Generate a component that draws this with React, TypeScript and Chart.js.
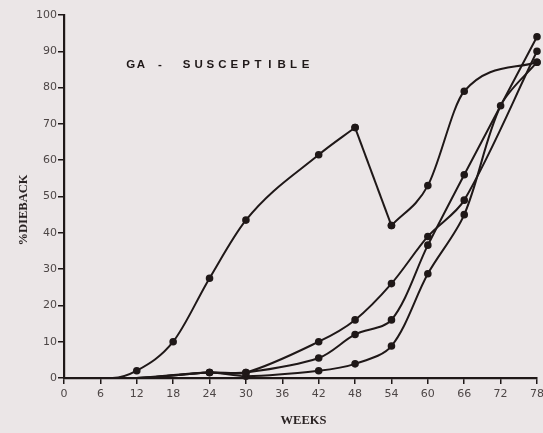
import React, { useEffect, useRef } from "react";
import { Chart, registerables } from "chart.js";

Chart.register(...registerables);

// ---- data ----
const xTickValues = [0, 6, 12, 18, 24, 30, 36, 42, 48, 54, 60, 66, 72, 78];
const yTickValues = [0, 10, 20, 30, 40, 50, 60, 70, 80, 90, 100];

// early-dieback curve
const s1Weeks = [0, 8, 12, 18, 24, 30, 42, 48, 54, 60, 66, 78];
const s1Values = [0, 0, 2, 10, 27.5, 43.5, 61.5, 69, 42, 53, 79, 87];
const s1Cusps = [48, 54];

const aWeeks = [0, 12, 24, 30, 42, 48, 54, 60, 66, 78];
const aValues = [0, 0, 1.5, 1.5, 10, 16, 26, 39, 49, 90];

const bWeeks = [0, 12, 24, 30, 42, 48, 54, 60, 66, 78];
const bValues = [0, 0, 1.5, 1.5, 5.5, 12, 16, 36.6, 56, 94];

const cWeeks = [0, 12, 24, 30, 42, 48, 54, 60, 66, 72, 78];
const cValues = [0, 0, 1.5, 0.5, 2, 3.9, 8.8, 28.7, 45, 75, 87];

const titleLeft = "GA";
const titleDash = "-";
const titleRight = "SUSCEPTIBLE";
const xTitle = "WEEKS";
const yTitle = "%DIEBACK";

const INK = "#1f1818";
const BG = "#ebe6e7";

type Pt = { x: number; y: number };

function toPoints(weeks: number[], values: number[]): Pt[] {
  return weeks.map((w, i) => ({ x: w, y: values[i] }));
}

// split a series at cusp weeks so the curve can bend sharply there
function splitAt(points: Pt[], cusps: number[]): Pt[][] {
  const pieces: Pt[][] = [];
  let cur: Pt[] = [];
  points.forEach((p) => {
    cur.push(p);
    if (cusps.includes(p.x)) {
      pieces.push(cur);
      cur = [p];
    }
  });
  if (cur.length > 1) pieces.push(cur);
  return pieces;
}

function drawSpaced(ctx: CanvasRenderingContext2D, text: string, startCenter: number, pitch: number, y: number) {
  for (let i = 0; i < text.length; i++) {
    ctx.fillText(text[i], startCenter + i * pitch, y);
  }
}

const textPlugin = {
  id: "texts",
  afterDraw(chart: any) {
    const { ctx } = chart;
    ctx.save();
    ctx.fillStyle = INK;
    ctx.textAlign = "center";
    ctx.textBaseline = "middle";
    ctx.font = 'bold 11.5px "Liberation Sans", Arial, sans-serif';
    drawSpaced(ctx, titleLeft, 130.8, 10, 64.5);
    drawSpaced(ctx, titleDash, 160, 10, 64.5);
    drawSpaced(ctx, titleRight, 186.7, 11.88, 64.5);

    ctx.font = 'bold 12.5px "Liberation Serif", "Times New Roman", serif';
    ctx.fillStyle = "#2a2323";
    ctx.fillText(xTitle, 303.5, 420.5);
    ctx.translate(24, 210);
    ctx.rotate(-Math.PI / 2);
    ctx.fillText(yTitle, 0, 0);
    ctx.restore();
  },
};

export default function App() {
  const ref = useRef<HTMLCanvasElement | null>(null);

  useEffect(() => {
    if (!ref.current) return;
    const s1Pieces = splitAt(toPoints(s1Weeks, s1Values), s1Cusps);
    const common = {
      borderColor: INK,
      backgroundColor: INK,
      borderWidth: 2,
      fill: false,
      clip: false as any,
    };
    const smooth = { cubicInterpolationMode: "default" as const, tension: 0.32 };
    const datasets: any[] = [
      ...s1Pieces.map((pts, i) => ({
        ...common,
        data: pts,
        // straight descent between the peak and the dip
        cubicInterpolationMode: i === 1 ? "default" : "monotone",
        tension: i === 1 ? 0 : 0.4,
      })),
      { ...common, ...smooth, data: toPoints(aWeeks, aValues) },
      { ...common, ...smooth, data: toPoints(bWeeks, bValues) },
      { ...common, ...smooth, data: toPoints(cWeeks, cValues) },
    ];

    const tickFont = { family: '"DejaVu Sans", sans-serif', size: 11 };

    const chart = new Chart(ref.current, {
      type: "line",
      data: { datasets },
      plugins: [textPlugin],
      options: {
        responsive: false,
        animation: false,
        layout: { padding: { left: 0, right: 3, top: 15, bottom: 0 } },
        plugins: { legend: { display: false }, tooltip: { enabled: false } },
        elements: {
          point: {
            radius: (c: any) => (c.raw && c.raw.y === 0 ? 0 : 2.8),
            backgroundColor: INK,
            borderWidth: 0,
          },
        },
        scales: {
          x: {
            type: "linear",
            min: 0,
            max: 78,
            afterBuildTicks: (s: any) => {
              s.ticks = xTickValues.map((v) => ({ value: v }));
            },
            afterFit: (s: any) => {
              s.height = 55;
              s.paddingLeft = 0;
              s.paddingRight = 0;
            },
            grid: {
              display: true,
              drawOnChartArea: false,
              drawTicks: true,
              tickLength: 6,
              color: INK,
              lineWidth: 1.5,
            },
            border: { display: true, color: INK, width: 2.2 },
            ticks: {
              color: "#4d4646",
              font: tickFont,
              padding: 4,
              maxRotation: 0,
              autoSkip: false,
              callback: (v: any) => String(v),
            },
          },
          y: {
            type: "linear",
            min: 0,
            max: 100,
            afterBuildTicks: (s: any) => {
              s.ticks = yTickValues.map((v) => ({ value: v }));
            },
            afterFit: (s: any) => {
              s.width = 64;
              s.paddingTop = 0;
              s.paddingBottom = 0;
            },
            grid: {
              display: true,
              drawOnChartArea: false,
              drawTicks: true,
              tickLength: 6,
              color: INK,
              lineWidth: 1.5,
            },
            border: { display: true, color: INK, width: 2.2 },
            ticks: {
              color: "#4d4646",
              font: tickFont,
              padding: 1,
              autoSkip: false,
              callback: (v: any) => String(v),
            },
          },
        },
      } as any,
    });
    return () => chart.destroy();
  }, []);

  return (
    <div
      style={{
        position: "fixed",
        left: 0,
        top: 0,
        width: 543,
        height: 433,
        background: BG,
      }}
    >
      <canvas ref={ref} width={543} height={433} style={{ display: "block" }} />
    </div>
  );
}
